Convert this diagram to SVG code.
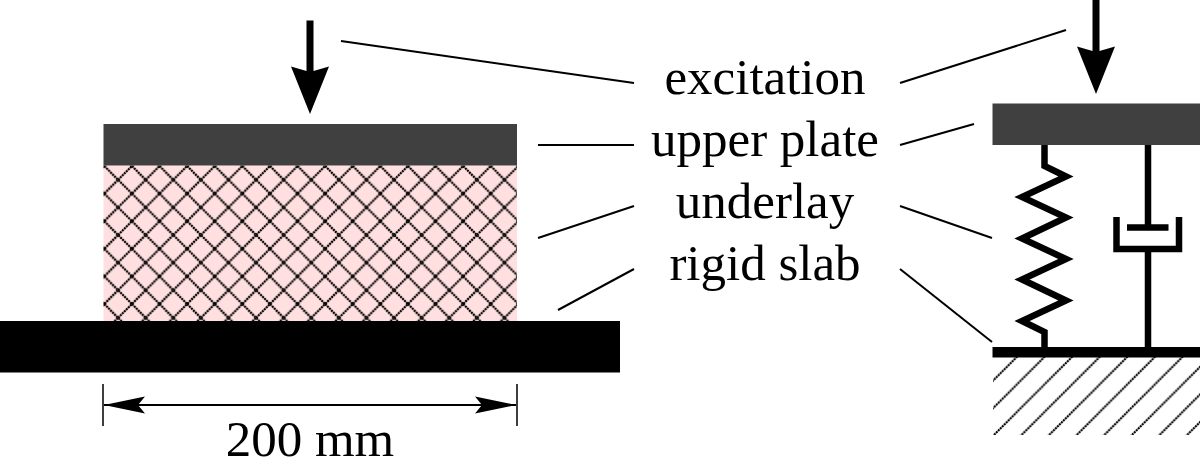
<svg xmlns="http://www.w3.org/2000/svg" width="1200" height="467" viewBox="0 0 1200 467">
<style>
.lead{stroke:#000;stroke-width:2;fill:none}
.plate{fill:#404040}
.solid{fill:#000}
.mech{stroke:#000;stroke-width:6.5;fill:none}
.lbl{font-family:"Liberation Serif","Times New Roman",serif;font-size:51px;fill:#000;text-anchor:middle}
</style>
<defs>
<pattern id="cross" patternUnits="userSpaceOnUse" width="27.6" height="27.6" x="118.1" y="166">
<path d="M0 13.8L13.8 0L27.6 13.8L13.8 27.6Z" fill="none" stroke="#000" stroke-width="2.200" stroke-dasharray="2.100 0.700"/>
</pattern>
<pattern id="hatch" patternUnits="userSpaceOnUse" width="27.6" height="27.6" x="989.1" y="357">
<path d="M-3 3L3 -3M-3 30.6L30.6 -3M24.6 30.6L30.6 24.6" fill="none" stroke="#000" stroke-width="2.100" stroke-dasharray="2.100 0.700"/>
</pattern>
<marker id="dim" viewBox="0 0 41 18" refX="41" refY="9" markerWidth="41" markerHeight="18" markerUnits="userSpaceOnUse" orient="auto-start-reverse">
<path d="M41 9L0 0.500L7 9L0 17.500Z" fill="#000"/>
</marker>
</defs>
<g id="connectors">
<path class="lead" d="M341 41L634 83"/>
<path class="lead" d="M900 83L1066 30"/>
<path class="lead" d="M538 145H634"/>
<path class="lead" d="M900 145L974 124"/>
<path class="lead" d="M538 238L634 206"/>
<path class="lead" d="M900 206L992 238"/>
<path class="lead" d="M558 310L634 269"/>
<path class="lead" d="M900 269L992 342"/>
</g>
<g id="underlay-layer"><rect x="103.5" y="165.5" width="413.5" height="156" fill="#ffdfdf"/><rect x="103.5" y="165.5" width="413.5" height="156" fill="url(#cross)"/></g>
<g id="upper-plate-left"><rect class="plate" x="103.5" y="124" width="413.5" height="41.5"/></g>
<g id="rigid-slab-left"><rect class="solid" x="0" y="321" width="620" height="51.5"/></g>
<g id="excitation-left"><path d="M306.500 20.500H313.500V71L329 66.500L310 114L291 66.500L306.500 71Z" fill="#000"/></g>
<g id="dimension">
<path d="M103 384V426M517 384V426" stroke="#000" stroke-width="1.5" fill="none"/>
<path d="M104 405H516" stroke="#000" stroke-width="2" fill="none" marker-start="url(#dim)" marker-end="url(#dim)"/>
<text class="lbl" x="310" y="456">200 mm</text>
</g>
<g id="excitation-right"><path d="M1092.500 0H1099.500V51L1115 46.500L1096 94L1077 46.500L1092.500 51Z" fill="#000"/></g>
<g id="upper-plate-right"><rect class="plate" x="992.500" y="103.500" width="207.500" height="41.500"/></g>
<g id="spring"><path class="mech" stroke-linejoin="miter" d="M1044.500 145V166L1066 176.500L1022 197L1066 217.500L1022 238.500L1066 259L1022 279.500L1066 300.500L1022 321L1044.500 332V350"/></g>
<g id="damper">
<path class="mech" d="M1148 145V228M1127 227.500H1168.500M1116.500 217V249H1179V217M1148 249V350"/>
</g>
<g id="ground"><rect x="993" y="357" width="207" height="78" fill="url(#hatch)"/><rect class="solid" x="992.500" y="347" width="207.500" height="10.500"/></g>
<g id="labels">
<text class="lbl" x="765" y="93.500">excitation</text>
<text class="lbl" x="765" y="155.500">upper plate</text>
<text class="lbl" x="765" y="218">underlay</text>
<text class="lbl" x="765" y="280">rigid slab</text>
</g>
</svg>
